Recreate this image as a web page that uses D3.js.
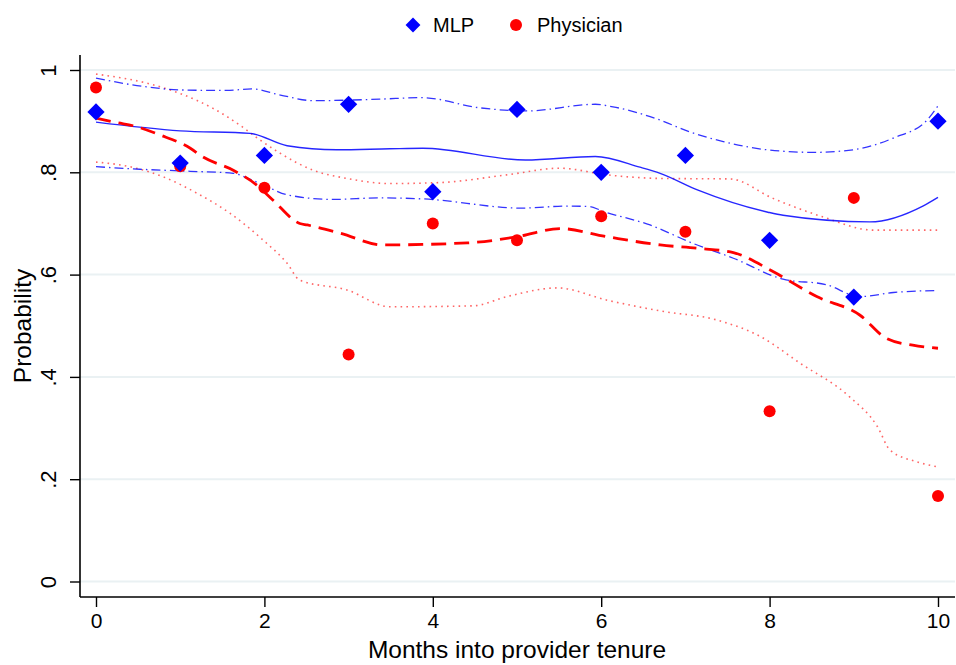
<!DOCTYPE html>
<html>
<head>
<meta charset="utf-8">
<script src="https://cdn.jsdelivr.net/npm/d3@7"></script>
<style>
  html, body { margin: 0; padding: 0; background: #fff; }
  svg { display: block; font-family: "Liberation Sans", Arial, Helvetica, sans-serif; }
</style>
</head>
<body>
<svg id="chart" width="956" height="665"></svg>
<script>
// Observed share by month of tenure
const months = [0, 1, 2, 3, 4, 5, 6, 7, 8, 9, 10];
const mlpObs = [0.918, 0.818, 0.833, 0.933, 0.762, 0.923, 0.800, 0.833, 0.667, 0.556, 0.900];
const physObs = [0.966, 0.812, 0.770, 0.444, 0.700, 0.667, 0.714, 0.684, 0.333, 0.750, 0.167];

// Smoothed MLP curve and its confidence band
const mlpFitX = [0, 1.0, 1.83, 2.27, 2.86, 3.49, 3.88, 5.10, 5.93, 6.46, 6.70, 7.15, 7.98, 8.16, 9.19, 9.82, 10];
const mlpFitY = [0.898, 0.881, 0.876, 0.852, 0.844, 0.846, 0.847, 0.824, 0.831, 0.810, 0.798, 0.765, 0.722, 0.716, 0.703, 0.734, 0.751];
const mlpHiX = [0, 0.60, 1.0, 1.55, 1.85, 2.19, 2.58, 3.37, 3.87, 4.56, 5.12, 5.93, 6.14, 6.70, 7.05, 7.45, 7.97, 8.52, 8.99, 9.47, 9.87, 10];
const mlpHiY = [0.984, 0.967, 0.961, 0.960, 0.963, 0.951, 0.940, 0.943, 0.946, 0.926, 0.920, 0.933, 0.928, 0.902, 0.879, 0.860, 0.844, 0.839, 0.844, 0.867, 0.902, 0.930];
const mlpLoX = [0, 0.52, 1.12, 1.63, 1.85, 2.03, 2.27, 2.81, 3.37, 3.88, 5.06, 5.59, 5.87, 6.0, 6.58, 7.09, 7.57, 8.16, 8.68, 9.07, 9.47, 10];
const mlpLoY = [0.811, 0.806, 0.802, 0.798, 0.785, 0.772, 0.756, 0.747, 0.750, 0.748, 0.730, 0.734, 0.733, 0.725, 0.697, 0.661, 0.632, 0.591, 0.580, 0.557, 0.565, 0.569];

// Smoothed physician curve and its confidence band
const physFitX = [0, 0.25, 0.44, 0.76, 1.12, 1.27, 1.63, 1.91, 2.10, 2.42, 2.51, 2.90, 3.41, 4.41, 5.0, 5.51, 6.07, 6.70, 7.17, 7.57, 8.04, 8.56, 9.07, 9.39, 9.70, 10];
const physFitY = [0.906, 0.897, 0.891, 0.873, 0.847, 0.830, 0.804, 0.775, 0.746, 0.700, 0.697, 0.681, 0.658, 0.662, 0.674, 0.690, 0.674, 0.658, 0.651, 0.643, 0.606, 0.557, 0.521, 0.475, 0.462, 0.456];
const physHiX = [0, 0.61, 1.0, 1.39, 1.71, 1.95, 2.19, 2.58, 2.98, 3.49, 4.09, 4.88, 5.51, 6.07, 6.70, 7.53, 8.04, 8.63, 9.23, 10];
const physHiY = [0.992, 0.974, 0.954, 0.925, 0.892, 0.863, 0.837, 0.804, 0.788, 0.778, 0.780, 0.795, 0.808, 0.795, 0.788, 0.787, 0.749, 0.713, 0.687, 0.687];
const physLoX = [0, 0.40, 0.80, 1.20, 1.59, 1.98, 2.27, 2.42, 2.98, 3.49, 4.48, 4.88, 5.48, 6.07, 6.70, 7.38, 7.89, 8.36, 8.95, 9.28, 9.43, 9.75, 10];
const physLoY = [0.820, 0.811, 0.791, 0.759, 0.720, 0.668, 0.622, 0.589, 0.570, 0.537, 0.539, 0.557, 0.574, 0.550, 0.529, 0.511, 0.479, 0.427, 0.361, 0.303, 0.257, 0.234, 0.224];

const xTicks = [0, 2, 4, 6, 8, 10];
const yTicks = [0, 0.2, 0.4, 0.6, 0.8, 1];
const yTickLabels = ["0", ".2", ".4", ".6", ".8", "1"];

const svg = d3.select("#chart");
const plotLeft = 80, plotRight = 955, plotTop = 55, plotBottom = 597;

const x = d3.scaleLinear().domain([0, 10]).range([96, 938]);
const y = d3.scaleLinear().domain([0, 1]).range([581.5, 70]);

const BLUE = "#0000ff", RED = "#ff0000";

// horizontal grid
svg.append("g").selectAll("line").data(yTicks).join("line")
  .attr("x1", plotLeft).attr("x2", plotRight)
  .attr("y1", d => y(d)).attr("y2", d => y(d))
  .attr("stroke", "#eaf1f3").attr("stroke-width", 2);

// axes
const yAxis = d3.axisLeft(y).tickValues(yTicks)
  .tickFormat((d, i) => yTickLabels[i]).tickSize(10).tickPadding(0);
const gy = svg.append("g").attr("transform", `translate(${plotLeft},0)`).call(yAxis);
gy.select(".domain").attr("d", `M0,${plotTop}V${plotBottom}`).attr("stroke", "#000").attr("stroke-width", 1.6);
gy.selectAll(".tick line").attr("stroke", "#000").attr("stroke-width", 1.4);
gy.selectAll(".tick text").remove();
gy.selectAll(".tick").append("text")
  .attr("transform", "translate(-24,0) rotate(-90)")
  .attr("text-anchor", "middle")
  .attr("fill", "#000").style("font-size", "22px")
  .text((d, i) => yTickLabels[i]);

const xAxis = d3.axisBottom(x).tickValues(xTicks).tickFormat(d3.format("d")).tickSize(10).tickPadding(6);
const gx = svg.append("g").attr("transform", `translate(0,${plotBottom})`).call(xAxis);
gx.select(".domain").attr("d", `M${plotLeft},0H${plotRight}`).attr("stroke", "#000").attr("stroke-width", 1.6);
gx.selectAll(".tick line").attr("stroke", "#000").attr("stroke-width", 1.4);
gx.selectAll(".tick text").attr("fill", "#000").style("font-size", "21px").style("font-family", "inherit");

// axis titles
svg.append("text").attr("x", 517).attr("y", 658).attr("text-anchor", "middle")
  .style("font-size", "24.5px").text("Months into provider tenure");
svg.append("text").attr("transform", `translate(31,${(plotTop + plotBottom) / 2}) rotate(-90)`)
  .attr("text-anchor", "middle").style("font-size", "24.5px").text("Probability");

// lines
const line = d3.line().x(d => x(d[0])).y(d => y(d[1])).curve(d3.curveMonotoneX);
const zip = (a, b) => a.map((v, i) => [v, b[i]]);

function drawLine(xs, ys, stroke, width, dash, opacity) {
  svg.append("path").datum(zip(xs, ys))
    .attr("d", line).attr("fill", "none")
    .attr("stroke", stroke).attr("stroke-width", width)
    .attr("stroke-dasharray", dash).attr("stroke-opacity", opacity);
}

drawLine(physHiX, physHiY, RED, 1.6, "1.6,4.2", 0.6);
drawLine(physLoX, physLoY, RED, 1.6, "1.6,4.2", 0.6);
drawLine(mlpHiX, mlpHiY, BLUE, 1.3, "9,4,1.5,4", 0.8);
drawLine(mlpLoX, mlpLoY, BLUE, 1.3, "9,4,1.5,4", 0.8);
drawLine(mlpFitX, mlpFitY, BLUE, 1.4, null, 0.85);
drawLine(physFitX, physFitY, RED, 2.8, "15,8", 1);

// observed markers
const diamond = d3.symbol().type(d3.symbolDiamond2).size(190);
svg.append("g").selectAll("circle").data(zip(months, physObs)).join("circle")
  .attr("cx", d => x(d[0])).attr("cy", d => y(d[1])).attr("r", 6).attr("fill", RED);
svg.append("g").selectAll("path").data(zip(months, mlpObs)).join("path")
  .attr("transform", d => `translate(${x(d[0])},${y(d[1])})`)
  .attr("d", diamond).attr("fill", BLUE);

// legend
const lg = svg.append("g");
lg.append("path").attr("transform", "translate(413,25)").attr("d", diamond.size(140)()).attr("fill", BLUE);
lg.append("text").attr("x", 433).attr("y", 32).style("font-size", "20px").text("MLP");
lg.append("circle").attr("cx", 516).attr("cy", 25).attr("r", 6).attr("fill", RED);
lg.append("text").attr("x", 537).attr("y", 32).style("font-size", "20px").text("Physician");
</script>
</body>
</html>
